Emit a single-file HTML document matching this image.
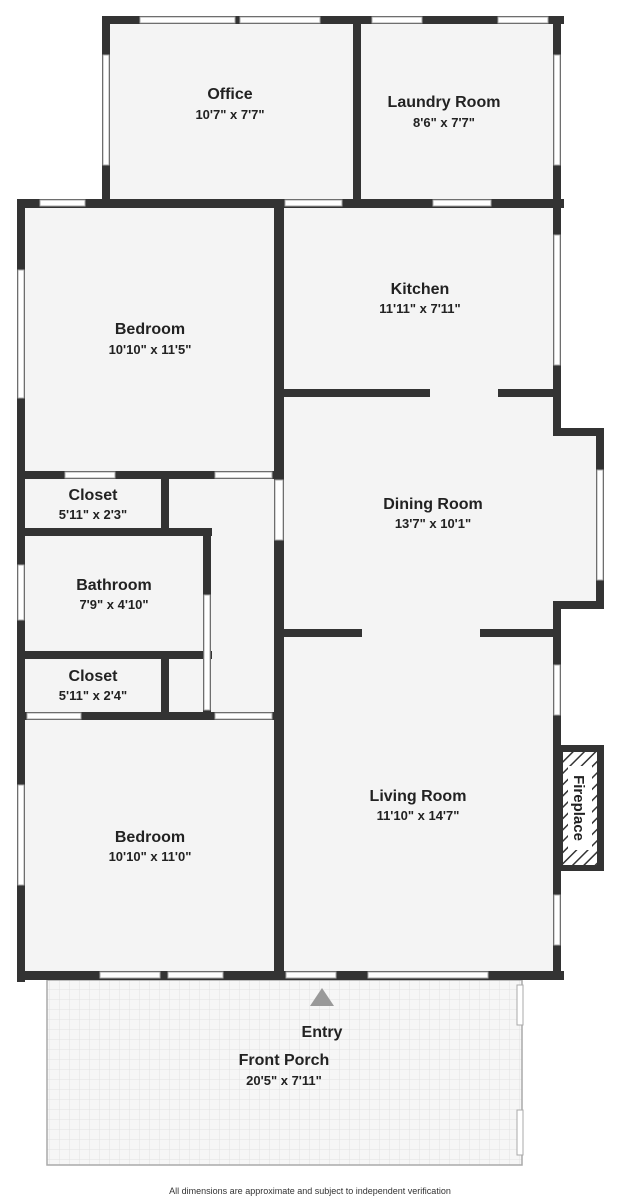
<!DOCTYPE html>
<html><head><meta charset="utf-8"><style>
html,body{margin:0;padding:0;background:#fff;}
svg{display:block;font-family:"Liberation Sans",sans-serif;}
.t{font-weight:bold;font-size:16px;fill:#222;text-anchor:middle}
.d{font-weight:bold;font-size:13px;fill:#222;text-anchor:middle}
</style></head><body>
<svg width="620" height="1200" viewBox="0 0 620 1200">
<defs>
<pattern id="g" width="10" height="10" patternUnits="userSpaceOnUse"><rect width="10" height="10" fill="#f6f6f6"/><path d="M10 0V10H0" fill="none" stroke="#e2e2e2" stroke-width="1"/></pattern>
<pattern id="h" width="8" height="8" patternUnits="userSpaceOnUse" patternTransform="rotate(45)"><rect width="8" height="8" fill="#fff"/><line x1="0" y1="0" x2="0" y2="8" stroke="#333" stroke-width="3"/></pattern>
</defs>
<rect x="106" y="20" width="454" height="185" fill="#f4f4f4"/>
<rect x="21" y="203" width="539" height="775" fill="#f4f4f4"/>
<rect x="557" y="432" width="43" height="175" fill="#f4f4f4"/>
<rect x="47" y="980" width="475" height="185" fill="url(#g)" stroke="#aaa" stroke-width="1.5"/>
<g fill="#333">
<rect x="102" y="16" width="462" height="8"/>
<rect x="102" y="16" width="8" height="190"/>
<rect x="353" y="16" width="8" height="190"/>
<rect x="553" y="16" width="8" height="420"/>
<rect x="17" y="199" width="547" height="9"/>
<rect x="17" y="199" width="8" height="783"/>
<rect x="274" y="199" width="10" height="780"/>
<rect x="282" y="389" width="148" height="8"/>
<rect x="498" y="389" width="63" height="8"/>
<rect x="553" y="428" width="51" height="8"/>
<rect x="596" y="428" width="8" height="181"/>
<rect x="553" y="601" width="51" height="8"/>
<rect x="553" y="601" width="8" height="378"/>
<rect x="282" y="629" width="80" height="8"/>
<rect x="480" y="629" width="80" height="8"/>
<rect x="17" y="971" width="547" height="9"/>
<rect x="21" y="471" width="257" height="8"/>
<rect x="161" y="471" width="8" height="61"/>
<rect x="21" y="528" width="191" height="8"/>
<rect x="203" y="528" width="8" height="190"/>
<rect x="21" y="651" width="191" height="8"/>
<rect x="161" y="651" width="8" height="67"/>
<rect x="21" y="712" width="257" height="8"/>
<rect x="557" y="745" width="47" height="126"/>
</g>
<rect x="563" y="752" width="34" height="113" fill="url(#h)"/>
<g fill="#fff" stroke="#aaa" stroke-width="1">
<rect x="140" y="17" width="95" height="6"/><rect x="240" y="17" width="80" height="6"/>
<rect x="372" y="17" width="50" height="6"/><rect x="498" y="17" width="50" height="6"/>
<rect x="103" y="55" width="6" height="110"/>
<rect x="554" y="55" width="6" height="110"/>
<rect x="40" y="200" width="45" height="6"/>
<rect x="285" y="200" width="57" height="6"/><rect x="433" y="200" width="58" height="6"/>
<rect x="18" y="270" width="6" height="128"/>
<rect x="554" y="235" width="6" height="130"/>
<rect x="65" y="472" width="50" height="6"/><rect x="215" y="472" width="57" height="6"/>
<rect x="275" y="480" width="8" height="60"/>
<rect x="597" y="470" width="6" height="110"/>
<rect x="18" y="565" width="6" height="55"/>
<rect x="204" y="595" width="6" height="115"/>
<rect x="27" y="713" width="54" height="6"/><rect x="215" y="713" width="57" height="6"/>
<rect x="554" y="665" width="6" height="50"/>
<rect x="18" y="785" width="6" height="100"/>
<rect x="554" y="895" width="6" height="50"/>
<rect x="100" y="972" width="60" height="6"/><rect x="168" y="972" width="55" height="6"/>
<rect x="286" y="972" width="50" height="6"/><rect x="368" y="972" width="120" height="6"/>
<rect x="517" y="985" width="6" height="40"/><rect x="517" y="1110" width="6" height="45"/>
</g>
<polygon points="322,988 310,1006 334,1006" fill="#999"/>
<text class="t" x="230" y="99">Office</text><text class="d" x="230" y="119">10'7" x 7'7"</text>
<text class="t" x="444" y="107">Laundry Room</text><text class="d" x="444" y="127">8'6" x 7'7"</text>
<text class="t" x="420" y="294">Kitchen</text><text class="d" x="420" y="313">11'11" x 7'11"</text>
<text class="t" x="150" y="334">Bedroom</text><text class="d" x="150" y="354">10'10" x 11'5"</text>
<text class="t" x="93" y="500">Closet</text><text class="d" x="93" y="519">5'11" x 2'3"</text>
<text class="t" x="433" y="509">Dining Room</text><text class="d" x="433" y="528">13'7" x 10'1"</text>
<text class="t" x="114" y="590">Bathroom</text><text class="d" x="114" y="609">7'9" x 4'10"</text>
<text class="t" x="93" y="681">Closet</text><text class="d" x="93" y="700">5'11" x 2'4"</text>
<text class="t" x="418" y="801">Living Room</text><text class="d" x="418" y="820">11'10" x 14'7"</text>
<text class="t" x="150" y="842">Bedroom</text><text class="d" x="150" y="861">10'10" x 11'0"</text>
<rect x="568" y="766" width="24" height="84" fill="#fff"/>
<text class="t" style="font-size:15px" transform="translate(574,808) rotate(90)">Fireplace</text>
<text class="t" x="322" y="1037">Entry</text>
<text class="t" x="284" y="1065">Front Porch</text><text class="d" x="284" y="1085">20'5" x 7'11"</text>
<text x="310" y="1194" font-size="9" fill="#333" text-anchor="middle">All dimensions are approximate and subject to independent verification</text>
</svg>
</body></html>
